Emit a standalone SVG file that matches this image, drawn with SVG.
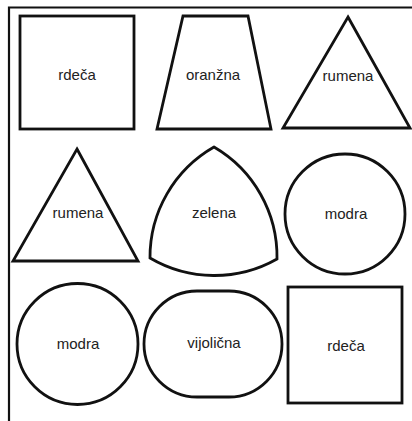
<svg xmlns="http://www.w3.org/2000/svg" width="412" height="421" viewBox="0 0 412 421">
<style>
.s{fill:#fff;stroke:#111;stroke-width:2.8;stroke-linejoin:miter}
.t{font-family:"Liberation Sans",Arial,sans-serif;font-size:15px;fill:#222;text-anchor:middle}
.f{fill:none;stroke:#111;stroke-width:2.2}
</style>
<rect width="412" height="421" fill="#fff"/>
<g id="frame"><path class="f" d="M9,421 V7.5 H412"/></g>
<g id="connectors"></g>
<g id="n1"><rect class="s" x="20" y="16" width="114" height="113"/><text class="t" x="77" y="80">rdeča</text></g>
<g id="n2"><polygon class="s" points="183,16 248,16 271,129 157,129"/><text class="t" x="213" y="80">oranžna</text></g>
<g id="n3"><polygon class="s" points="348,17 410,128 283,128"/><text class="t" x="348" y="81">rumena</text></g>
<g id="n4"><polygon class="s" points="77,149 138,261 13,261"/><text class="t" x="78" y="218">rumena</text></g>
<g id="n5"><path class="s" d="M214,147 A127,127 0 0 1 277,259 A127,127 0 0 1 150,258 A127,127 0 0 1 214,147 Z"/><text class="t" x="214" y="218">zelena</text></g>
<g id="n6"><circle class="s" cx="345" cy="214" r="60"/><text class="t" x="346" y="219">modra</text></g>
<g id="n7"><circle class="s" cx="77.5" cy="344" r="60.5"/><text class="t" x="78" y="349">modra</text></g>
<g id="n8"><rect class="s" x="144" y="291" width="138" height="106" rx="53" ry="53"/><text class="t" x="214" y="348">vijolična</text></g>
<g id="n9"><rect class="s" x="288" y="287" width="114" height="116"/><text class="t" x="346" y="351">rdeča</text></g>
</svg>
